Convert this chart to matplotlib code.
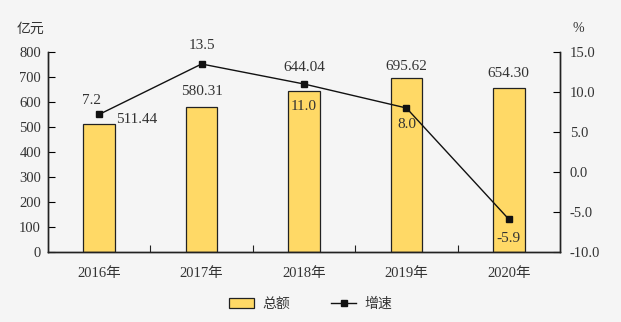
import matplotlib
matplotlib.use("Agg")
import matplotlib.pyplot as plt
from matplotlib.lines import Line2D
from matplotlib.patches import Patch

plt.rcParams['font.family'] = ['Liberation Serif', 'Noto Sans CJK SC']

years = ["2016年", "2017年", "2018年", "2019年", "2020年"]
total = [511.44, 580.31, 644.04, 695.62, 654.30]
growth = [7.2, 13.5, 11.0, 8.0, -5.9]
total_labels = ["511.44", "580.31", "644.04", "695.62", "654.30"]
growth_labels = ["7.2", "13.5", "11.0", "8.0", "-5.9"]

bg = "#f5f5f5"
txt = "#333333"

fig = plt.figure(figsize=(6.21, 3.22), dpi=100, facecolor=bg)
ax = fig.add_axes([48 / 621, 70 / 322, 512 / 621, 200 / 322], facecolor=bg)
ax2 = ax.twinx()

x = list(range(len(years)))
ax.bar(x, total, width=0.31, color="#FFD966", edgecolor="#222222", linewidth=0.9, zorder=2)
ax.set_xlim(-0.5, len(years) - 0.5)
ax.set_ylim(0, 800)
ax.set_yticks(range(0, 801, 100))

ax2.plot(x, growth, color="#111111", linewidth=1.0, marker="s", markersize=5, zorder=3)
ax2.set_ylim(-10, 15)
ax2.set_yticks([-10, -5, 0, 5, 10, 15])
ax2.set_yticklabels([f"{v:.1f}" for v in [-10, -5, 0, 5, 10, 15]])

# category boundary ticks on the bottom axis
ax.set_xticks([i + 0.5 for i in x[:-1]])
ax.set_xticklabels([])
ax.tick_params(axis="x", direction="in", length=5, color="#222222")
for i, y in enumerate(years):
    ax.text(i, -0.075, y, transform=ax.get_xaxis_transform(), ha="center", va="top",
            fontsize=10.5, color=txt)

for a in (ax, ax2):
    a.spines["top"].set_visible(False)
    for s in ("left", "right", "bottom"):
        a.spines[s].set_color("#222222")
        a.spines[s].set_linewidth(1.0)
ax.tick_params(axis="y", direction="in", length=5, labelsize=10.5, labelcolor=txt, pad=5)
ax2.tick_params(axis="y", direction="in", length=5, labelsize=10.5, labelcolor=txt, pad=7)

# bar value labels (offsets in points)
bar_off = [(12, 3.6), (0, 11), (0, 17), (0, 8.6), (0, 10.4)]
for i, (v, lab) in enumerate(zip(total, total_labels)):
    dx, dy = bar_off[i]
    ax.annotate(lab, (i, v), xytext=(dx, dy), textcoords="offset points",
                ha="left" if dx else "center", va="center", fontsize=11, color=txt)

# growth value labels
gr_off = [(-5.8, 10), (0, 13), (0, -16), (0, -12), (0, -14)]
for i, (v, lab) in enumerate(zip(growth, growth_labels)):
    dx, dy = gr_off[i]
    ax2.annotate(lab, (i, v), xytext=(dx, dy), textcoords="offset points",
                 ha="center", va="center", fontsize=11, color=txt)

fig.text(30 / 621, 1 - 29 / 322, "亿元", ha="center", va="center", fontsize=10, color=txt)
fig.text(578 / 621, 1 - 29 / 322, "%", ha="center", va="center", fontsize=10, color=txt)

handles = [Patch(facecolor="#FFD966", edgecolor="#222222", linewidth=0.9),
           Line2D([0], [0], color="#111111", linewidth=1.0, marker="s", markersize=5)]
fig.legend(handles, ["总额", "增速"], loc="center", bbox_to_anchor=(0.5, 1 - 304 / 322),
           ncol=2, frameon=False, fontsize=10, columnspacing=3.0, handlelength=1.8,
           handletextpad=0.6, labelcolor=txt)

fig.savefig("out.png", dpi=100, facecolor=bg)
